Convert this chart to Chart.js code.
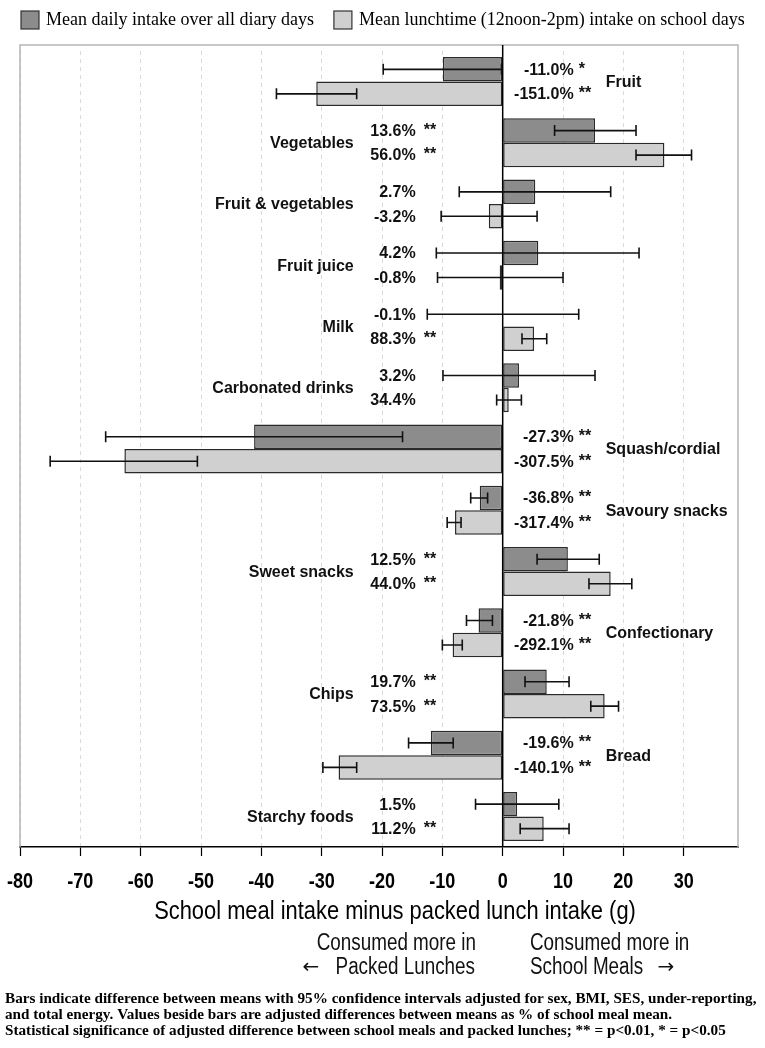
<!DOCTYPE html>
<html>
<head>
<meta charset="utf-8">
<script src="https://cdn.jsdelivr.net/npm/chart.js@4.4.0/dist/chart.umd.min.js"></script>
<style>
  html, body { margin: 0; padding: 0; background: #fff; }
  #wrap { width: 765px; height: 1048px; position: relative; }
</style>
</head>
<body>
<div id="wrap"><canvas id="chart" width="765" height="1048"></canvas></div>
<script>
const categories = ['Fruit', 'Vegetables', 'Fruit & vegetables', 'Fruit juice', 'Milk', 'Carbonated drinks',
    'Squash/cordial', 'Savoury snacks', 'Sweet snacks', 'Confectionary', 'Chips', 'Bread', 'Starchy foods'];

// mean daily intake over all diary days (g), with 95% CI
const dailyDiff = [-9.9, 15.3, 5.4, 5.9, -0.02, 2.7, -41.2, -3.8, 10.8, -4.0, 7.3, -11.9, 2.4];
const dailyLow  = [-19.8, 8.6, -7.2, -11.0, -12.5, -9.9, -65.8, -5.3, 5.7, -6.0, 3.7, -15.6, -4.5];
const dailyHigh = [-0.2, 22.1, 17.9, 22.6, 12.6, 15.3, -16.6, -2.5, 16.0, -1.7, 11.0, -8.2, 9.3];

// mean lunchtime intake on school days (g), with 95% CI
const lunchDiff = [-30.9, 26.8, -2.3, -0.5, 5.2, 1.0, -62.7, -7.9, 17.9, -8.3, 16.9, -27.2, 6.8];
const lunchLow  = [-37.5, 22.1, -10.2, -10.8, 3.2, -1.0, -75.0, -9.2, 14.3, -10.0, 14.6, -29.8, 2.9];
const lunchHigh = [-24.2, 31.3, 5.7, 10.0, 7.3, 3.1, -50.6, -6.9, 21.4, -6.7, 19.2, -24.2, 11.0];

const dailyPct = ['-11.0%', '13.6%', '2.7%', '4.2%', '-0.1%', '3.2%', '-27.3%', '-36.8%', '12.5%', '-21.8%', '19.7%', '-19.6%', '1.5%'];
const dailySig = ['*', '**', '', '', '', '', '**', '**', '**', '**', '**', '**', ''];
const lunchPct = ['-151.0%', '56.0%', '-3.2%', '-0.8%', '88.3%', '34.4%', '-307.5%', '-317.4%', '44.0%', '-292.1%', '73.5%', '-140.1%', '11.2%'];
const lunchSig = ['**', '**', '', '', '**', '', '**', '**', '**', '**', '**', '**', '**'];

const xTickValues = [-80, -70, -60, -50, -40, -30, -20, -10, 0, 10, 20, 30];

const SANS = '"Liberation Sans", Arial, sans-serif';
const SERIF = '"Liberation Serif", "Times New Roman", serif';

// no narrow face installed, so squeeze Liberation Sans horizontally
function narrowText(ctx, text, x, y, align) {
    ctx.save();
    ctx.translate(x, y);
    ctx.scale(0.82, 1);
    ctx.textAlign = align;
    ctx.fillText(text, 0, 0);
    ctx.restore();
}

const annotate = {
    id: 'annotate',
    afterDatasetsDraw(chart) {
        const { ctx, chartArea, scales: { x } } = chart;
        const zero = x.getPixelForValue(0);
        const top = 45;
        ctx.save();

        // plot frame (bottom edge is the x axis border)
        ctx.strokeStyle = '#b5b5b5';
        ctx.lineWidth = 1.5;
        ctx.beginPath();
        ctx.moveTo(chartArea.left, chartArea.bottom);
        ctx.lineTo(chartArea.left, top);
        ctx.lineTo(chartArea.right, top);
        ctx.lineTo(chartArea.right, chartArea.bottom);
        ctx.stroke();

        // zero line
        ctx.strokeStyle = '#000';
        ctx.lineWidth = 1.5;
        ctx.beginPath();
        ctx.moveTo(zero, top);
        ctx.lineTo(zero, chartArea.bottom);
        ctx.stroke();

        // error bars
        [[dailyLow, dailyHigh], [lunchLow, lunchHigh]].forEach(([lo, hi], d) => {
            chart.getDatasetMeta(d).data.forEach((bar, i) => {
                const x1 = x.getPixelForValue(lo[i]);
                const x2 = x.getPixelForValue(hi[i]);
                ctx.strokeStyle = '#111';
                ctx.lineWidth = 1.6;
                ctx.beginPath();
                ctx.moveTo(x1, bar.y); ctx.lineTo(x2, bar.y);
                ctx.moveTo(x1, bar.y - 5.5); ctx.lineTo(x1, bar.y + 5.5);
                ctx.moveTo(x2, bar.y - 5.5); ctx.lineTo(x2, bar.y + 5.5);
                ctx.stroke();
            });
        });

        // value and category labels
        const m0 = chart.getDatasetMeta(0).data;
        const m1 = chart.getDatasetMeta(1).data;
        ctx.fillStyle = '#111';
        ctx.font = 'bold 16px ' + SANS;
        ctx.textBaseline = 'middle';
        categories.forEach((cat, i) => {
            const y0 = m0[i].y + 1, y1 = m1[i].y + 1;
            const right = dailyDiff[i] < 0 && lunchDiff[i] < 0;
            const pctX = right ? zero + 71 : zero - 87;
            const sigX = right ? zero + 76 : zero - 79;
            ctx.textAlign = 'right';
            ctx.fillText(dailyPct[i], pctX, y0);
            ctx.fillText(lunchPct[i], pctX, y1);
            ctx.textAlign = 'left';
            ctx.fillText(dailySig[i], sigX, y0 - 1);
            ctx.fillText(lunchSig[i], sigX, y1 - 1);
            const cy = (y0 + y1) / 2;
            if (right) {
                ctx.textAlign = 'left';
                ctx.fillText(cat, zero + 103, cy);
            } else {
                ctx.textAlign = 'right';
                ctx.fillText(cat, zero - 149, cy);
            }
        });
        ctx.restore();
    },
    afterDraw(chart) {
        const { ctx, chartArea, scales: { x } } = chart;
        ctx.save();
        ctx.textBaseline = 'middle';

        // x tick labels and axis title, condensed
        ctx.fillStyle = '#000';
        ctx.font = 'bold 22px ' + SANS;
        x.ticks.forEach(t => narrowText(ctx, String(t.value), x.getPixelForValue(t.value), chartArea.bottom + 35, 'center'));
        ctx.font = '26.7px ' + SANS;
        narrowText(ctx, 'School meal intake minus packed lunch intake (g)', 395, 912, 'center');

        // legend
        ctx.font = '18px ' + SERIF;
        ctx.textAlign = 'left';
        let lx = 21;
        chart.data.datasets.forEach(ds => {
            ctx.fillStyle = ds.backgroundColor;
            ctx.fillRect(lx, 11, 18, 18);
            ctx.strokeStyle = '#333';
            ctx.lineWidth = 1.2;
            ctx.strokeRect(lx, 11, 18, 18);
            ctx.fillStyle = '#000';
            ctx.fillText(ds.label, lx + 25, 20);
            lx += 25 + ctx.measureText(ds.label).width + 20;
        });

        // direction notes
        ctx.fillStyle = '#111';
        ctx.font = '23px ' + SANS;
        narrowText(ctx, 'Consumed more in', 476, 944, 'right');
        narrowText(ctx, 'Packed Lunches', 475, 968, 'right');
        narrowText(ctx, 'Consumed more in', 530, 944, 'left');
        narrowText(ctx, 'School Meals', 530, 968, 'left');
        ctx.font = '20px "DejaVu Sans", sans-serif';
        ctx.textAlign = 'center';
        ctx.fillText('\u2190', 311, 968);
        ctx.fillText('\u2192', 666, 968);

        // footnote
        ctx.font = 'bold 15.2px ' + SERIF;
        ctx.textAlign = 'left';
        ctx.fillStyle = '#000';
        ctx.fillText('Bars indicate difference between means with 95% confidence intervals adjusted for sex, BMI, SES, under-reporting,', 5, 999);
        ctx.fillText('and total energy. Values beside bars are adjusted differences between means as % of school meal mean.', 5, 1015);
        ctx.fillText('Statistical significance of adjusted difference between school meals and packed lunches; ** = p<0.01, * = p<0.05', 5, 1031);
        ctx.restore();
    }
};

new Chart(document.getElementById('chart'), {
    type: 'bar',
    data: {
        labels: categories,
        datasets: [
            {
                label: 'Mean daily intake over all diary days',
                data: dailyDiff,
                backgroundColor: '#8c8c8c',
                borderColor: '#2a2a2a',
                borderWidth: 1.5,
                borderSkipped: false
            },
            {
                label: 'Mean lunchtime (12noon-2pm) intake on school days',
                data: lunchDiff,
                backgroundColor: '#d0d0d0',
                borderColor: '#2a2a2a',
                borderWidth: 1.5,
                borderSkipped: false
            }
        ]
    },
    options: {
        indexAxis: 'y',
        responsive: false,
        animation: false,
        devicePixelRatio: 1,
        categoryPercentage: 0.8,
        barPercentage: 1.0,
        layout: { padding: { top: 51, left: 20, right: 27, bottom: 121 } },
        plugins: {
            legend: { display: false },
            tooltip: { enabled: false }
        },
        scales: {
            y: { display: false },
            x: {
                min: -80,
                max: 39,
                afterBuildTicks: axis => { axis.ticks = xTickValues.map(v => ({ value: v })); },
                afterFit: axis => { axis.height = 80; },
                ticks: { display: false },
                grid: { color: '#d9d9d9', lineWidth: 1, tickLength: 9, tickColor: '#000', tickWidth: 1.2 },
                border: { color: '#000', width: 1.5, dash: [4, 4] }
            }
        }
    },
    plugins: [annotate]
});
</script>
</body>
</html>
